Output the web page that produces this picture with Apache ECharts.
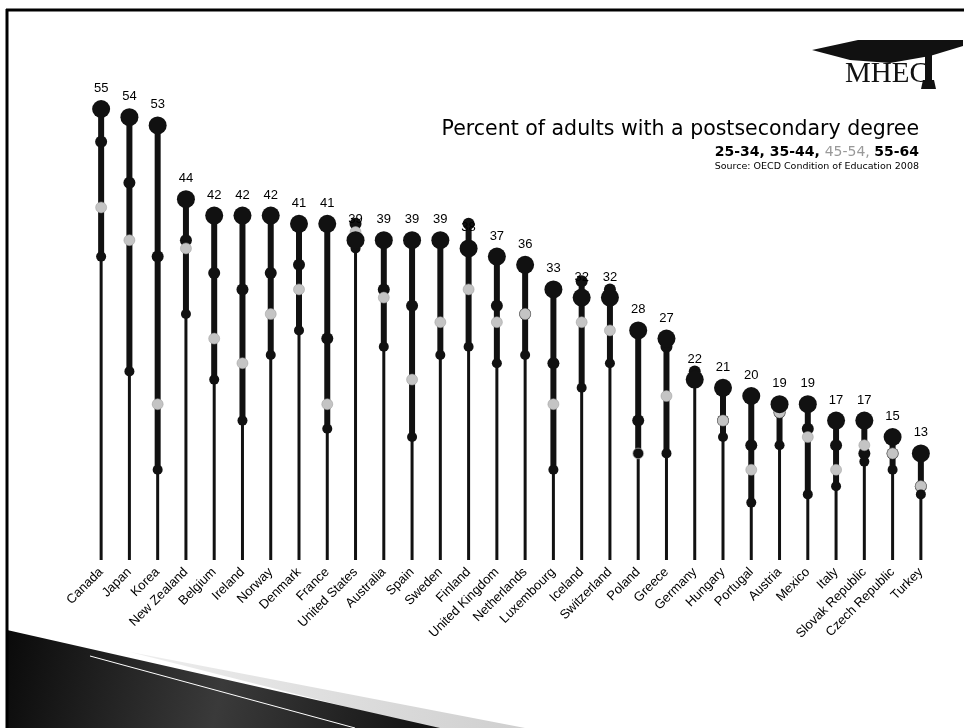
<!DOCTYPE html>
<html><head><meta charset="utf-8">
<script src="https://cdn.jsdelivr.net/npm/echarts@6/dist/echarts.min.js"></script>
<style>html,body{margin:0;padding:0;background:#fff}#c{width:964px;height:728px}</style>
</head><body><div id="c"></div>
<script>
const countries = ['Canada','Japan','Korea','New Zealand','Belgium','Ireland','Norway','Denmark','France','United States','Australia','Spain','Sweden','Finland','United Kingdom','Netherlands','Luxembourg','Iceland','Switzerland','Poland','Greece','Germany','Hungary','Portugal','Austria','Mexico','Italy','Slovak Republic','Czech Republic','Turkey'];
const age25_34 = [55,54,53,44,42,42,42,41,41,39,39,39,39,38,37,36,33,32,32,28,27,22,21,20,19,19,17,17,15,13];
const age35_44 = [51,46,37,39,35,33,35,36,27,41,33,31,39,41,31,30,24,34,33,17,26,23,17,14,18,16,14,13,13,9];
const age45_54 = [43,39,19,38,27,24,30,33,19,40,32,22,29,33,29,30,19,29,28,13,20,22,17,11,18,15,11,14,13,9];
const age55_64 = [37,23,11,30,22,17,25,28,16,38,26,15,25,26,24,25,11,21,24,13,13,22,15,7,14,8,9,12,11,8];
const titleText = 'Percent of adults with a postsecondary degree';
const sourceText = 'Source: OECD Condition of Education 2008';

const stems = countries.map((c, i) => {
  const vals = [age25_34[i], age35_44[i], age45_54[i], age55_64[i]];
  return [i, Math.min(...vals), Math.max(...vals)];
});

const chart = echarts.init(document.getElementById('c'), null, {renderer: 'canvas'});
const lab = 'Liberation Sans, Arial, sans-serif';
chart.setOption({
  animation: false,
  backgroundColor: '#fff',
  grid: {left: 87, right: 29, top: 68, bottom: 168},
  xAxis: {
    type: 'category', data: countries,
    axisLine: {show: false}, axisTick: {show: false}, splitLine: {show: false},
    axisLabel: {rotate: 45, interval: 0, margin: 10, color: '#000', fontFamily: lab, fontSize: 13}
  },
  yAxis: {type: 'value', min: 0, max: 60, show: false, splitLine: {show: false}},
  series: [
    {
      type: 'custom', data: stems, z: 1,
      renderItem: (params, api) => {
        const i = api.value(0), lo = api.value(1), hi = api.value(2);
        const p0 = api.coord([i, 0]), p1 = api.coord([i, lo]), p2 = api.coord([i, hi]);
        return {type: 'group', children: [
          {type: 'line', shape: {x1: p0[0], y1: p0[1], x2: p1[0], y2: p1[1]}, style: {stroke: '#111', lineWidth: 3}},
          {type: 'line', shape: {x1: p1[0], y1: p1[1], x2: p2[0], y2: p2[1]}, style: {stroke: '#111', lineWidth: 6}}
        ]};
      }
    },
    {type: 'scatter', name: '35-44', data: age35_44, symbolSize: 12, itemStyle: {color: '#111', opacity: 1}, z: 2},
    {type: 'scatter', name: '45-54', data: age45_54, symbolSize: 11, itemStyle: {color: '#c4c4c4', borderColor: '#999', borderWidth: 0.5, opacity: 1}, z: 3},
    {type: 'scatter', name: '55-64', data: age55_64, symbolSize: 10, itemStyle: {color: '#111', opacity: 1}, z: 4},
    {type: 'scatter', name: '25-34', data: age25_34, symbolSize: 18, itemStyle: {color: '#111', opacity: 1}, z: 5,
      label: {show: true, position: 'top', distance: 5, color: '#000', fontFamily: lab, fontSize: 13}}
  ],
  graphic: [
    // frame
    {type: 'line', shape: {x1: 6, y1: 10, x2: 964, y2: 10}, style: {stroke: '#000', lineWidth: 3}, z: 10},
    {type: 'line', shape: {x1: 7, y1: 9, x2: 7, y2: 728}, style: {stroke: '#000', lineWidth: 3}, z: 10},
    // bottom-left decoration
    {type: 'polygon', shape: {points: [[130, 652], [525, 728], [430, 728]]},
      style: {fill: {type: 'linear', x: 0, y: 0, x2: 1, y2: 0, colorStops: [{offset: 0, color: '#eee'}, {offset: 1, color: '#cfcfcf'}]}}, z: 8},
    {type: 'polygon', shape: {points: [[7, 630], [440, 728], [7, 728]]},
      style: {fill: {type: 'linear', x: 0, y: 0, x2: 1, y2: 1, colorStops: [{offset: 0, color: '#0a0a0a'}, {offset: 0.5, color: '#3a3a3a'}, {offset: 1, color: '#111'}]}}, z: 9},
    {type: 'line', shape: {x1: 90, y1: 656, x2: 355, y2: 728}, style: {stroke: '#fff', lineWidth: 1}, z: 10},
    // logo
    {type: 'polygon', shape: {points: [[812, 50], [858, 40], [963, 40], [963, 46], [930, 56], [890, 63], [850, 60]]}, style: {fill: '#111'}, z: 10},
    {type: 'rect', shape: {x: 925, y: 49, width: 7, height: 39}, style: {fill: '#111'}, z: 10},
    {type: 'polygon', shape: {points: [[923, 80], [934, 80], [936, 89], [921, 89]]}, style: {fill: '#111'}, z: 10},
    {type: 'text', x: 845, y: 89, style: {text: 'MHEC', fill: '#111', font: '29px "Liberation Serif", "Times New Roman", serif', align: 'left', verticalAlign: 'bottom'}, z: 10},
    // title block
    {type: 'text', x: 919, y: 130, style: {text: titleText, fill: '#000', font: '20.5px "DejaVu Sans", sans-serif', align: 'right', verticalAlign: 'middle'}, z: 10},
    {type: 'text', x: 919, y: 152, style: {
      text: '{a|25-34, 35-44, }{b|45-54, }{a|55-64}', align: 'right', verticalAlign: 'middle',
      rich: {a: {fill: '#000', color: '#000', fontFamily: 'DejaVu Sans', fontSize: 14, fontWeight: 'bold'}, b: {fill: '#999', color: '#999', fontFamily: 'DejaVu Sans', fontSize: 14}}
    }, z: 10},
    {type: 'text', x: 919, y: 167, style: {text: sourceText, fill: '#000', font: '9.5px "DejaVu Sans", sans-serif', align: 'right', verticalAlign: 'middle'}, z: 10}
  ]
});
</script></body></html>
